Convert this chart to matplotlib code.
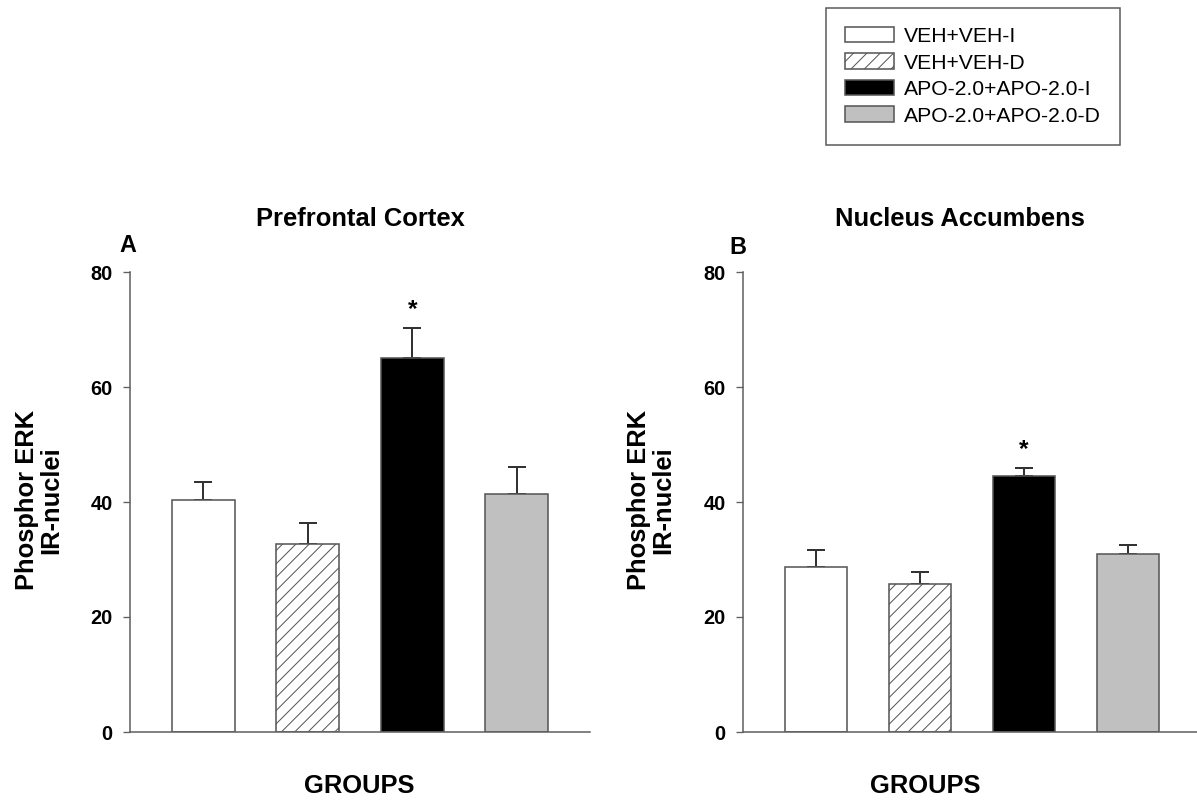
import matplotlib
matplotlib.use("Agg")
import matplotlib.pyplot as plt

plt.rcParams['font.family'] = ['Liberation Sans', 'DejaVu Sans']
plt.rcParams['hatch.linewidth'] = 0.9

groups = ["VEH+VEH-I", "VEH+VEH-D", "APO-2.0+APO-2.0-I", "APO-2.0+APO-2.0-D"]
pfc_mean = [40.4, 32.7, 65.0, 41.4]
pfc_sem = [3.0, 3.6, 5.2, 4.7]
nac_mean = [28.7, 25.8, 44.5, 31.0]
nac_sem = [3.0, 2.0, 1.5, 1.5]
pfc_sig = [False, False, True, False]
nac_sig = [False, False, True, False]
yticks = [0, 20, 40, 60, 80]

fills = ["white", "white", "black", "#c0c0c0"]
hatches = [None, "//", None, None]
edge = "#555555"

fig = plt.figure(figsize=(1197 / 80, 800 / 80), dpi=80)

ax_a = fig.add_axes([130 / 1197, 68 / 800, 460 / 1197, 460 / 800])
ax_b = fig.add_axes([743 / 1197, 68 / 800, 458 / 1197, 460 / 800])


def draw_panel(ax, means, sems, sig):
    x = list(range(len(means)))
    bars = ax.bar(x, means, width=0.6, color=fills, edgecolor=edge,
                  linewidth=1.4, zorder=2)
    for b, h in zip(bars, hatches):
        if h:
            b.set_hatch(h)
    ax.errorbar(x, means, yerr=[[0] * len(means), sems], fmt="none",
                ecolor="#333333", elinewidth=1.8, capsize=8, capthick=1.8,
                zorder=1)
    for xi, m, s, flag in zip(x, means, sems, sig):
        if flag:
            ax.text(xi, m + s + 3.2, "*", ha="center", va="center",
                    fontsize=22, fontweight="bold")
    ax.set_xlim(-0.7, 3.7)
    ax.set_ylim(0, 80)
    ax.set_yticks(yticks)
    ax.set_xticks([])
    for side in ("top", "right"):
        ax.spines[side].set_visible(False)
    for side in ("left", "bottom"):
        ax.spines[side].set_color("#606060")
        ax.spines[side].set_linewidth(1.4)
    ax.tick_params(axis="y", direction="out", length=6.5, width=1.2,
                   color="#606060", pad=9, labelsize=18)
    for lbl in ax.get_yticklabels():
        lbl.set_fontweight("bold")
    return bars


bars_a = draw_panel(ax_a, pfc_mean, pfc_sem, pfc_sig)
draw_panel(ax_b, nac_mean, nac_sem, nac_sig)

big = dict(fontsize=23, fontweight="bold", ha="center", va="center")
fig.text(360 / 1197, 1 - 219 / 800, "Prefrontal Cortex", **big)
fig.text(960 / 1197, 1 - 219 / 800, "Nucleus Accumbens", **big)
fig.text(128 / 1197, 1 - 246 / 800, "A", fontsize=21, fontweight="bold",
         ha="center", va="center")
fig.text(738 / 1197, 1 - 247 / 800, "B", fontsize=21, fontweight="bold",
         ha="center", va="center")
fig.text(359 / 1197, 1 - 786 / 800, "GROUPS", **big)
fig.text(925 / 1197, 1 - 786 / 800, "GROUPS", **big)
fig.text(39 / 1197, 1 - 500 / 800, "Phosphor ERK\nIR-nuclei", rotation=90,
         linespacing=1.05, **big)
fig.text(651 / 1197, 1 - 500 / 800, "Phosphor ERK\nIR-nuclei", rotation=90,
         linespacing=1.05, **big)

leg = fig.legend(bars_a, groups, loc="upper left",
                 bbox_to_anchor=(826 / 1197, 1 - 8 / 800),
                 fontsize=19, frameon=True, fancybox=False,
                 handlelength=2.3, handleheight=0.75, handletextpad=0.5,
                 labelspacing=0.35, borderpad=0.9, borderaxespad=0)
leg.get_frame().set_edgecolor("#333333")
leg.get_frame().set_linewidth(1.4)

fig.savefig("out.png", dpi=80)
